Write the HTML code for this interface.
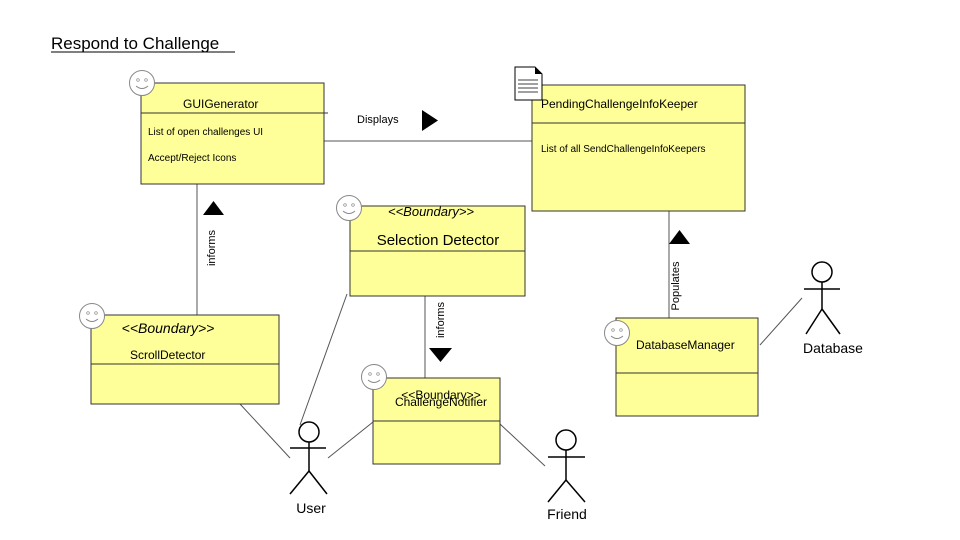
<!DOCTYPE html>
<html><head><meta charset="utf-8"><style>
body{margin:0;background:#fff}
svg{display:block;font-family:"Liberation Sans",Arial,sans-serif}
</style></head><body>
<svg width="960" height="540" viewBox="0 0 960 540" xmlns="http://www.w3.org/2000/svg">
<defs>
<g id="sm"><circle r="12.5" fill="#fff" stroke="#888" stroke-width="1"/><circle cx="-4" cy="-3" r="1.3" fill="none" stroke="#888" stroke-width="0.7"/><circle cx="4" cy="-3" r="1.3" fill="none" stroke="#888" stroke-width="0.7"/><path d="M-6,3 Q0,8 6,3" fill="none" stroke="#888" stroke-width="1"/></g>
</defs>
<rect width="960" height="540" fill="#fff"/>
<text x="51" y="49" font-size="17" fill="#000">Respond to Challenge</text>
<line x1="51" y1="52" x2="235" y2="52" stroke="#000" stroke-width="1"/>
<g stroke="#555" stroke-width="1" fill="none">
<line x1="324" y1="141" x2="532" y2="141"/>
<line x1="197" y1="184" x2="197" y2="315"/>
<line x1="425" y1="285" x2="425" y2="378"/>
<line x1="669" y1="211" x2="669" y2="318"/>
<line x1="240" y1="404" x2="290" y2="458"/>
<line x1="347" y1="294" x2="300" y2="425"/>
<line x1="328" y1="458" x2="373" y2="422"/>
<line x1="500" y1="424" x2="545" y2="466"/>
<line x1="760" y1="345" x2="802" y2="298"/>
</g>
<g stroke="#333" stroke-width="1" fill="#ffff99">
<rect x="141" y="83" width="183" height="101"/>
<rect x="532" y="85" width="213" height="126"/>
<rect x="350" y="206" width="175" height="90"/>
<rect x="91" y="315" width="188" height="89"/>
<rect x="373" y="378" width="127" height="86"/>
<rect x="616" y="318" width="142" height="98"/>
</g>
<g stroke="#333" stroke-width="1">
<line x1="141" y1="113" x2="328" y2="113"/>
<line x1="532" y1="123" x2="745" y2="123"/>
<line x1="350" y1="251" x2="525" y2="251"/>
<line x1="91" y1="364" x2="279" y2="364"/>
<line x1="373" y1="421" x2="500" y2="421"/>
<line x1="616" y1="373" x2="758" y2="373"/>
</g>
<use href="#sm" x="142" y="83"/>
<use href="#sm" x="349" y="208"/>
<use href="#sm" x="92" y="316"/>
<use href="#sm" x="374" y="377"/>
<use href="#sm" x="617" y="333"/>
<g>
<path d="M515,67 L535,67 L542,74 L542,100 L515,100 Z" fill="#fff" stroke="#000"/>
<path d="M535,67 L542,74 L535,74 Z" fill="#000"/>
<g stroke="#000" stroke-width="0.8"><line x1="518" y1="80" x2="538" y2="80"/><line x1="518" y1="84" x2="538" y2="84"/><line x1="518" y1="88" x2="538" y2="88"/><line x1="518" y1="92" x2="538" y2="92"/></g>
</g>
<g fill="#000">
<path d="M422,110 L438,120.5 L422,131 Z"/>
<path d="M203,215 L213.5,201 L224,215 Z"/>
<path d="M429,348 L452,348 L440.5,362 Z"/>
<path d="M669,244 L679.5,230 L690,244 Z"/>
</g>
<g font-size="11" fill="#000">
<text x="183" y="108" font-size="12">GUIGenerator</text>
<text x="148" y="135" font-size="10">List of open challenges UI</text>
<text x="148" y="161" font-size="10">Accept/Reject Icons</text>
<text x="357" y="123">Displays</text>
<text x="541" y="108" font-size="12">PendingChallengeInfoKeeper</text>
<text x="541" y="152" font-size="10">List of all SendChallengeInfoKeepers</text>
<text x="431" y="216" font-size="13" font-style="italic" text-anchor="middle">&lt;&lt;Boundary&gt;&gt;</text>
<text x="438" y="245" font-size="15" text-anchor="middle">Selection Detector</text>
<text x="168" y="333" font-size="14" font-style="italic" text-anchor="middle">&lt;&lt;Boundary&gt;&gt;</text>
<text x="130" y="359" font-size="12">ScrollDetector</text>
<text x="441" y="399" font-size="12" text-anchor="middle">&lt;&lt;Boundary&gt;&gt;</text>
<text x="441" y="406" font-size="12" text-anchor="middle">ChallengeNotifier</text>
<text x="636" y="349" font-size="12">DatabaseManager</text>
<text transform="translate(215,248) rotate(-90)" text-anchor="middle">informs</text>
<text transform="translate(444,320) rotate(-90)" text-anchor="middle">informs</text>
<text transform="translate(679,286) rotate(-90)" text-anchor="middle">Populates</text>
<text x="311" y="513" font-size="14" text-anchor="middle">User</text>
<text x="567" y="519" font-size="14" text-anchor="middle">Friend</text>
<text x="833" y="353" font-size="14" text-anchor="middle">Database</text>
</g>
<g stroke="#000" stroke-width="1.5" fill="#fff">
<circle cx="309" cy="432" r="10"/>
<line x1="290" y1="448" x2="326" y2="448"/><line x1="309" y1="442" x2="309" y2="471"/>
<line x1="309" y1="471" x2="290" y2="494"/><line x1="309" y1="471" x2="327" y2="494"/>
<circle cx="566" cy="440" r="10"/>
<line x1="548" y1="457" x2="585" y2="457"/><line x1="566" y1="450" x2="566" y2="480"/>
<line x1="566" y1="480" x2="548" y2="502"/><line x1="566" y1="480" x2="585" y2="502"/>
<circle cx="822" cy="272" r="10"/>
<line x1="804" y1="289" x2="840" y2="289"/><line x1="822" y1="282" x2="822" y2="309"/>
<line x1="822" y1="309" x2="806" y2="334"/><line x1="822" y1="309" x2="840" y2="334"/>
</g>
</svg>
</body></html>
